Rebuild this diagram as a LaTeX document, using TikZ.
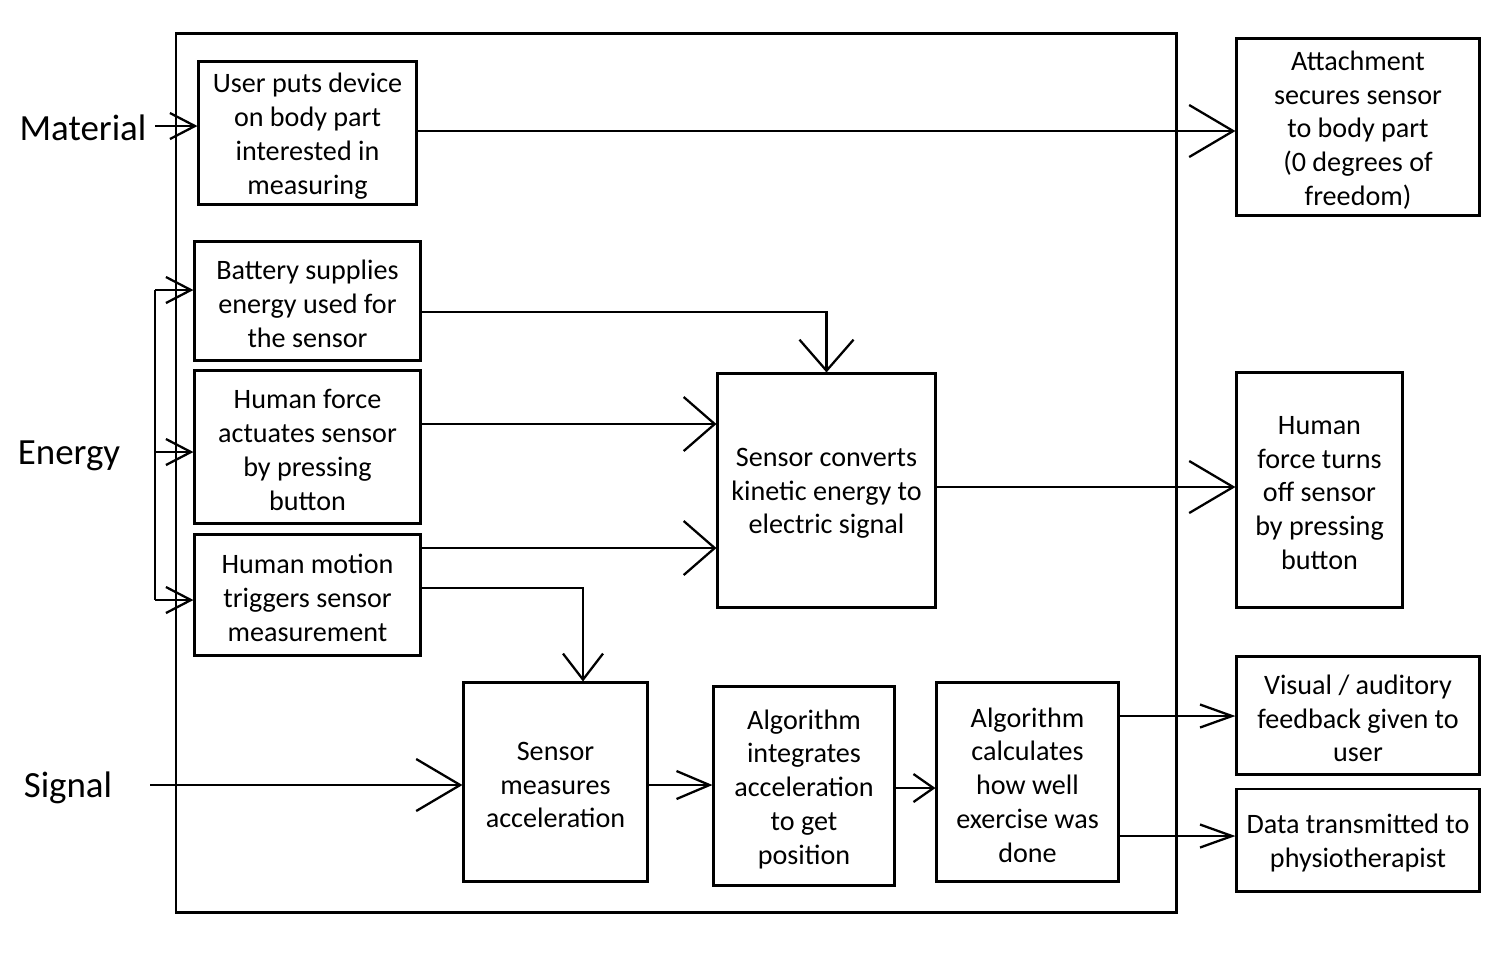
\documentclass[tikz,border=0pt]{standalone}
\usepackage{fontspec}
\setmainfont{Carlito}
\usetikzlibrary{arrows.meta,calc}
\tikzset{
  blk/.style={draw, line width=0.85pt, inner sep=0pt},
  txt/.style={align=center, inner sep=0pt, font=\fontsize{8}{9.6}\selectfont},
  lbl/.style={font=\fontsize{10.5}{12}\selectfont, inner sep=0pt},
  con/.style={line width=0.65pt},
  hA/.style={-{Straight Barb[length=0.44cm,width=0.52cm,line width=0.65pt]}},
  hB/.style={-{Straight Barb[length=0.31cm,width=0.54cm,line width=0.65pt]}},
  hC/.style={-{Straight Barb[length=0.26cm,width=0.40cm,line width=0.65pt]}},
  hS/.style={-{Straight Barb[length=0.25cm,width=0.26cm,line width=0.65pt]}},
  hD/.style={-{Straight Barb[length=0.32cm,width=0.23cm,line width=0.65pt]}},
  hE/.style={-{Straight Barb[length=0.33cm,width=0.28cm,line width=0.65pt]}},
  hF/.style={-{Straight Barb[length=0.20cm,width=0.28cm,line width=0.65pt]}},
}
% \bx{name}{x}{y}{w}{h}{text}
\newcommand{\bx}[6]{%
  \node[blk, minimum width=#4cm, minimum height=#5cm] (#1) at (#2,#3) {};
  \node[txt] (#1-t) at ($(#1.center)+(0,3)$) {#6};
}
\begin{document}
\begin{tikzpicture}[x=0.01cm,y=-0.01cm]
\useasboundingbox (0,0) rectangle (1500,956);
% frame
\draw[line width=0.85pt] (176,33) rectangle (1176,912);
% labels
\node[lbl] (mat) at (83,128) {Material};
\node[lbl] (ene) at (69,456) {Energy};
\node[lbl] (sig) at (68,788) {Signal};
% boxes
\bx{b1}{307.5}{133}{2.17}{1.42}{User puts device\\on body part\\interested in\\measuring}
\bx{att}{1358}{127}{2.42}{1.76}{Attachment\\secures sensor\\to body part\\(0 degrees of\\freedom)}
\bx{bat}{307.5}{301}{2.25}{1.18}{Battery supplies\\energy used for\\the sensor}
\bx{hf}{307.5}{447}{2.25}{1.52}{Human force\\actuates sensor\\by pressing\\button}
\bx{hm}{307.5}{595}{2.25}{1.20}{Human motion\\triggers sensor\\measurement}
\bx{conv}{826.5}{490.5}{2.17}{2.33}{Sensor converts\\kinetic energy to\\electric signal}
\bx{off}{1319.5}{490}{1.65}{2.34}{Human\\force turns\\off sensor\\by pressing\\button}
\bx{meas}{555.5}{782}{1.83}{1.98}{Sensor\\measures\\acceleration}
\bx{integ}{804}{786}{1.80}{1.98}{Algorithm\\integrates\\acceleration\\to get\\position}
\bx{calc}{1027.5}{782}{1.81}{1.98}{Algorithm\\calculates\\how well\\exercise was\\done}
\bx{vis}{1358}{715.5}{2.42}{1.17}{Visual / auditory\\feedback given to\\user}
\bx{data}{1358}{840}{2.42}{1.02}{Data transmitted to\\physiotherapist}
% coordinates
\coordinate (matS) at (155,126);
\coordinate (eTop) at (155,290);
\coordinate (eMid) at (155,452);
\coordinate (eBot) at (155,600);
\coordinate (sigS) at (150,785);
% connectors
\draw[con,hS] (matS) -- (b1.west |- matS);
\draw[con,hA] (b1.east |- 0,131) -- (att.west |- 0,131);
\draw[con] (eTop) -- (eBot);
\draw[con,hS] (eTop) -- (bat.west |- eTop);
\draw[con,hS] (eMid) -- (hf.west |- eMid);
\draw[con,hS] (eBot) -- (hm.west |- eBot);
\draw[con,hB] (bat.east |- 0,312) -| (conv.north);
\draw[con,hB] (hf.east |- 0,424) -- (conv.west |- 0,424);
\draw[con,hB] (hm.east |- 0,548) -- (conv.west |- 0,548);
\draw[con,hC] (hm.east |- 0,588) -| (583,0 |- meas.north);
\draw[con,hA] (conv.east |- 0,487) -- (off.west |- 0,487);
\draw[con,hA] (sigS) -- (meas.west |- sigS);
\draw[con,hE] (meas.east |- 0,785) -- (integ.west |- 0,785);
\draw[con,hF] (integ.east |- 0,788) -- (calc.west |- 0,788);
\draw[con,hD] (calc.east |- 0,716) -- (vis.west |- 0,716);
\draw[con,hD] (calc.east |- 0,836) -- (data.west |- 0,836);
\end{tikzpicture}
\end{document}
